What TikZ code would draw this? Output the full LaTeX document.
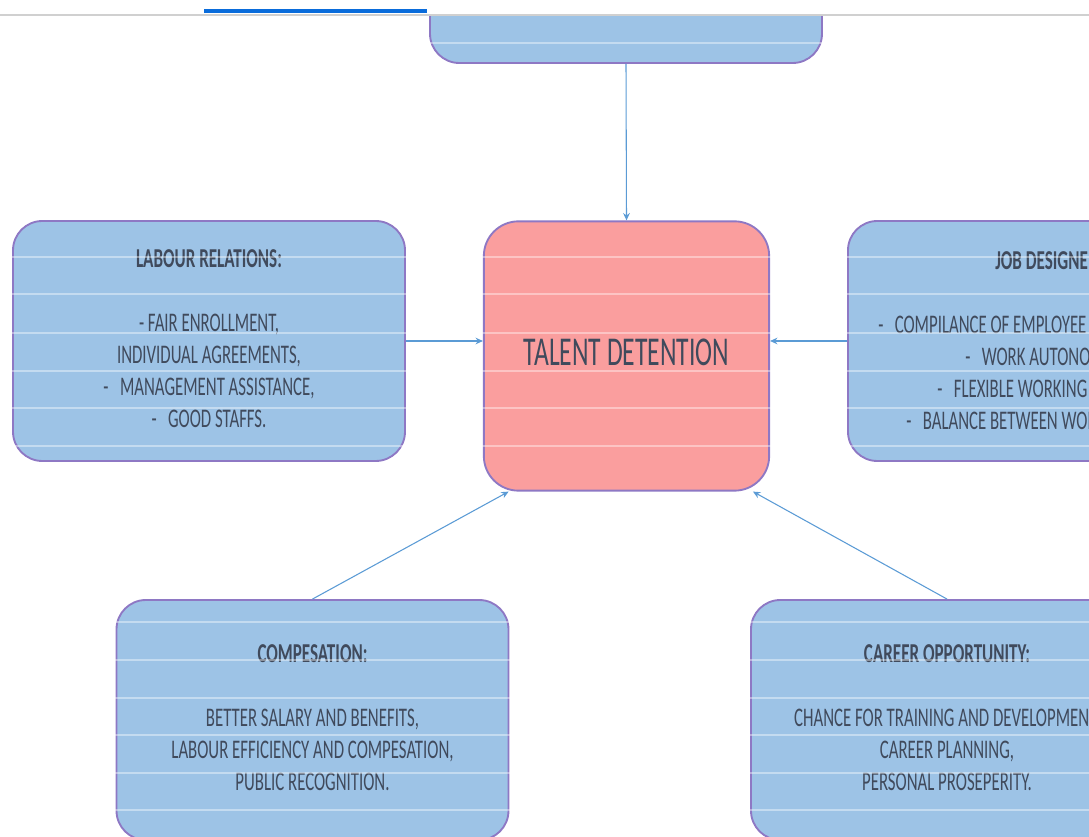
\documentclass[tikz,border=0pt]{standalone}
\usepackage{fontspec}
\setmainfont{Carlito}
\usepackage{graphicx}
\usetikzlibrary{positioning,arrows.meta}
\definecolor{boxblue}{HTML}{9DC3E6}
\definecolor{boxrose}{HTML}{FA9E9E}
\definecolor{rim}{HTML}{8E78C4}
\definecolor{link}{HTML}{5B9BD5}
\definecolor{ink}{HTML}{404A5C}
\definecolor{rule}{HTML}{D0D0D0}
\definecolor{tab}{HTML}{0A6CDB}
\newcommand{\tall}[2][c]{\scalebox{1}[1.6]{\begin{tabular}{@{}#1@{}}#2\end{tabular}}}
\newcommand{\headfont}{\fontsize{12.8}{15}\selectfont\bfseries}

\begin{document}
\begin{tikzpicture}[x=0.75pt,y=-0.75pt,
  card/.style={draw=rim,line width=1.4pt,fill=boxblue,rounded corners=22pt,
    minimum width=294pt,minimum height=180pt,text=ink,font=\fontsize{12.6}{15}\selectfont},
  hub/.style={card,fill=boxrose,rounded corners=26pt,minimum width=214pt,
    minimum height=202pt,font=\fontsize{19.2}{22}\selectfont},
  feed/.style={draw=link,line width=0.8pt,-{Stealth[length=5.5pt,width=5pt]}}]
\useasboundingbox (0,0) rectangle (1089,837);
\clip (0,0) rectangle (1089,837);
\node[hub] (talent) at (626.5,356) {\tall{TALENT DETENTION}};
\node[card] (upper) at (626,-57) {};
\node[card] (labour) at (209,341) {\tall{{\headfont LABOUR RELATIONS:}\\ \\
  - FAIR ENROLLMENT,\\ INDIVIDUAL AGREEMENTS,\\
  -\ \ \ MANAGEMENT ASSISTANCE,\\ -\ \ \ GOOD STAFFS.}};
\node[card] (job) at (1044,341) {};
\node[anchor=west,inner sep=0pt,text=ink,font=\fontsize{12.6}{15}\selectfont] (jobtext) at (878,343)
  {\tall[l]{\hspace*{87.75pt}{\headfont JOB DESIGNE}\\ \\
  -\ \ \ COMPILANCE OF EMPLOYEE\\ \hspace*{65.25pt}-\ \ \ WORK AUTONOMY,\\
  \hspace*{44.25pt}-\ \ \ FLEXIBLE WORKING\\ \hspace*{21pt}-\ \ \ BALANCE BETWEEN WORK}};
\node[card] (pay) at (312.5,720) {\tall{{\headfont COMPESATION:}\\ \\
  BETTER SALARY AND BENEFITS,\\ LABOUR EFFICIENCY AND COMPESATION,\\
  PUBLIC RECOGNITION.}};
\node[card] (career) at (947,720) {\tall{{\headfont CAREER OPPORTUNITY:}\\ \\
  CHANCE FOR TRAINING AND DEVELOPMENT,\\ CAREER PLANNING,\\
  PERSONAL PROSEPERITY.}};
\draw[feed] (upper.south) -- (talent.north);
\draw[feed] (labour.east) -- (labour.east -| talent.west);
\draw[feed] (job.west) -- (job.west -| talent.east);
\draw[feed] (pay.north) -- (talent.229);
\draw[feed] (career.north) -- (talent.313);
\foreach \y in {43,257,294,333,371,408,446,622,660,698,735,773,810}
  \draw[white,opacity=.4,line width=.8pt] (0,\y) -- (1089,\y);
\fill[white] (0,0) rectangle (1089,14);
\draw[rule,line width=1.5pt] (0,15) -- (1089,15);
\fill[tab] (204,9) rectangle (427,13.5);
\end{tikzpicture}
\end{document}
